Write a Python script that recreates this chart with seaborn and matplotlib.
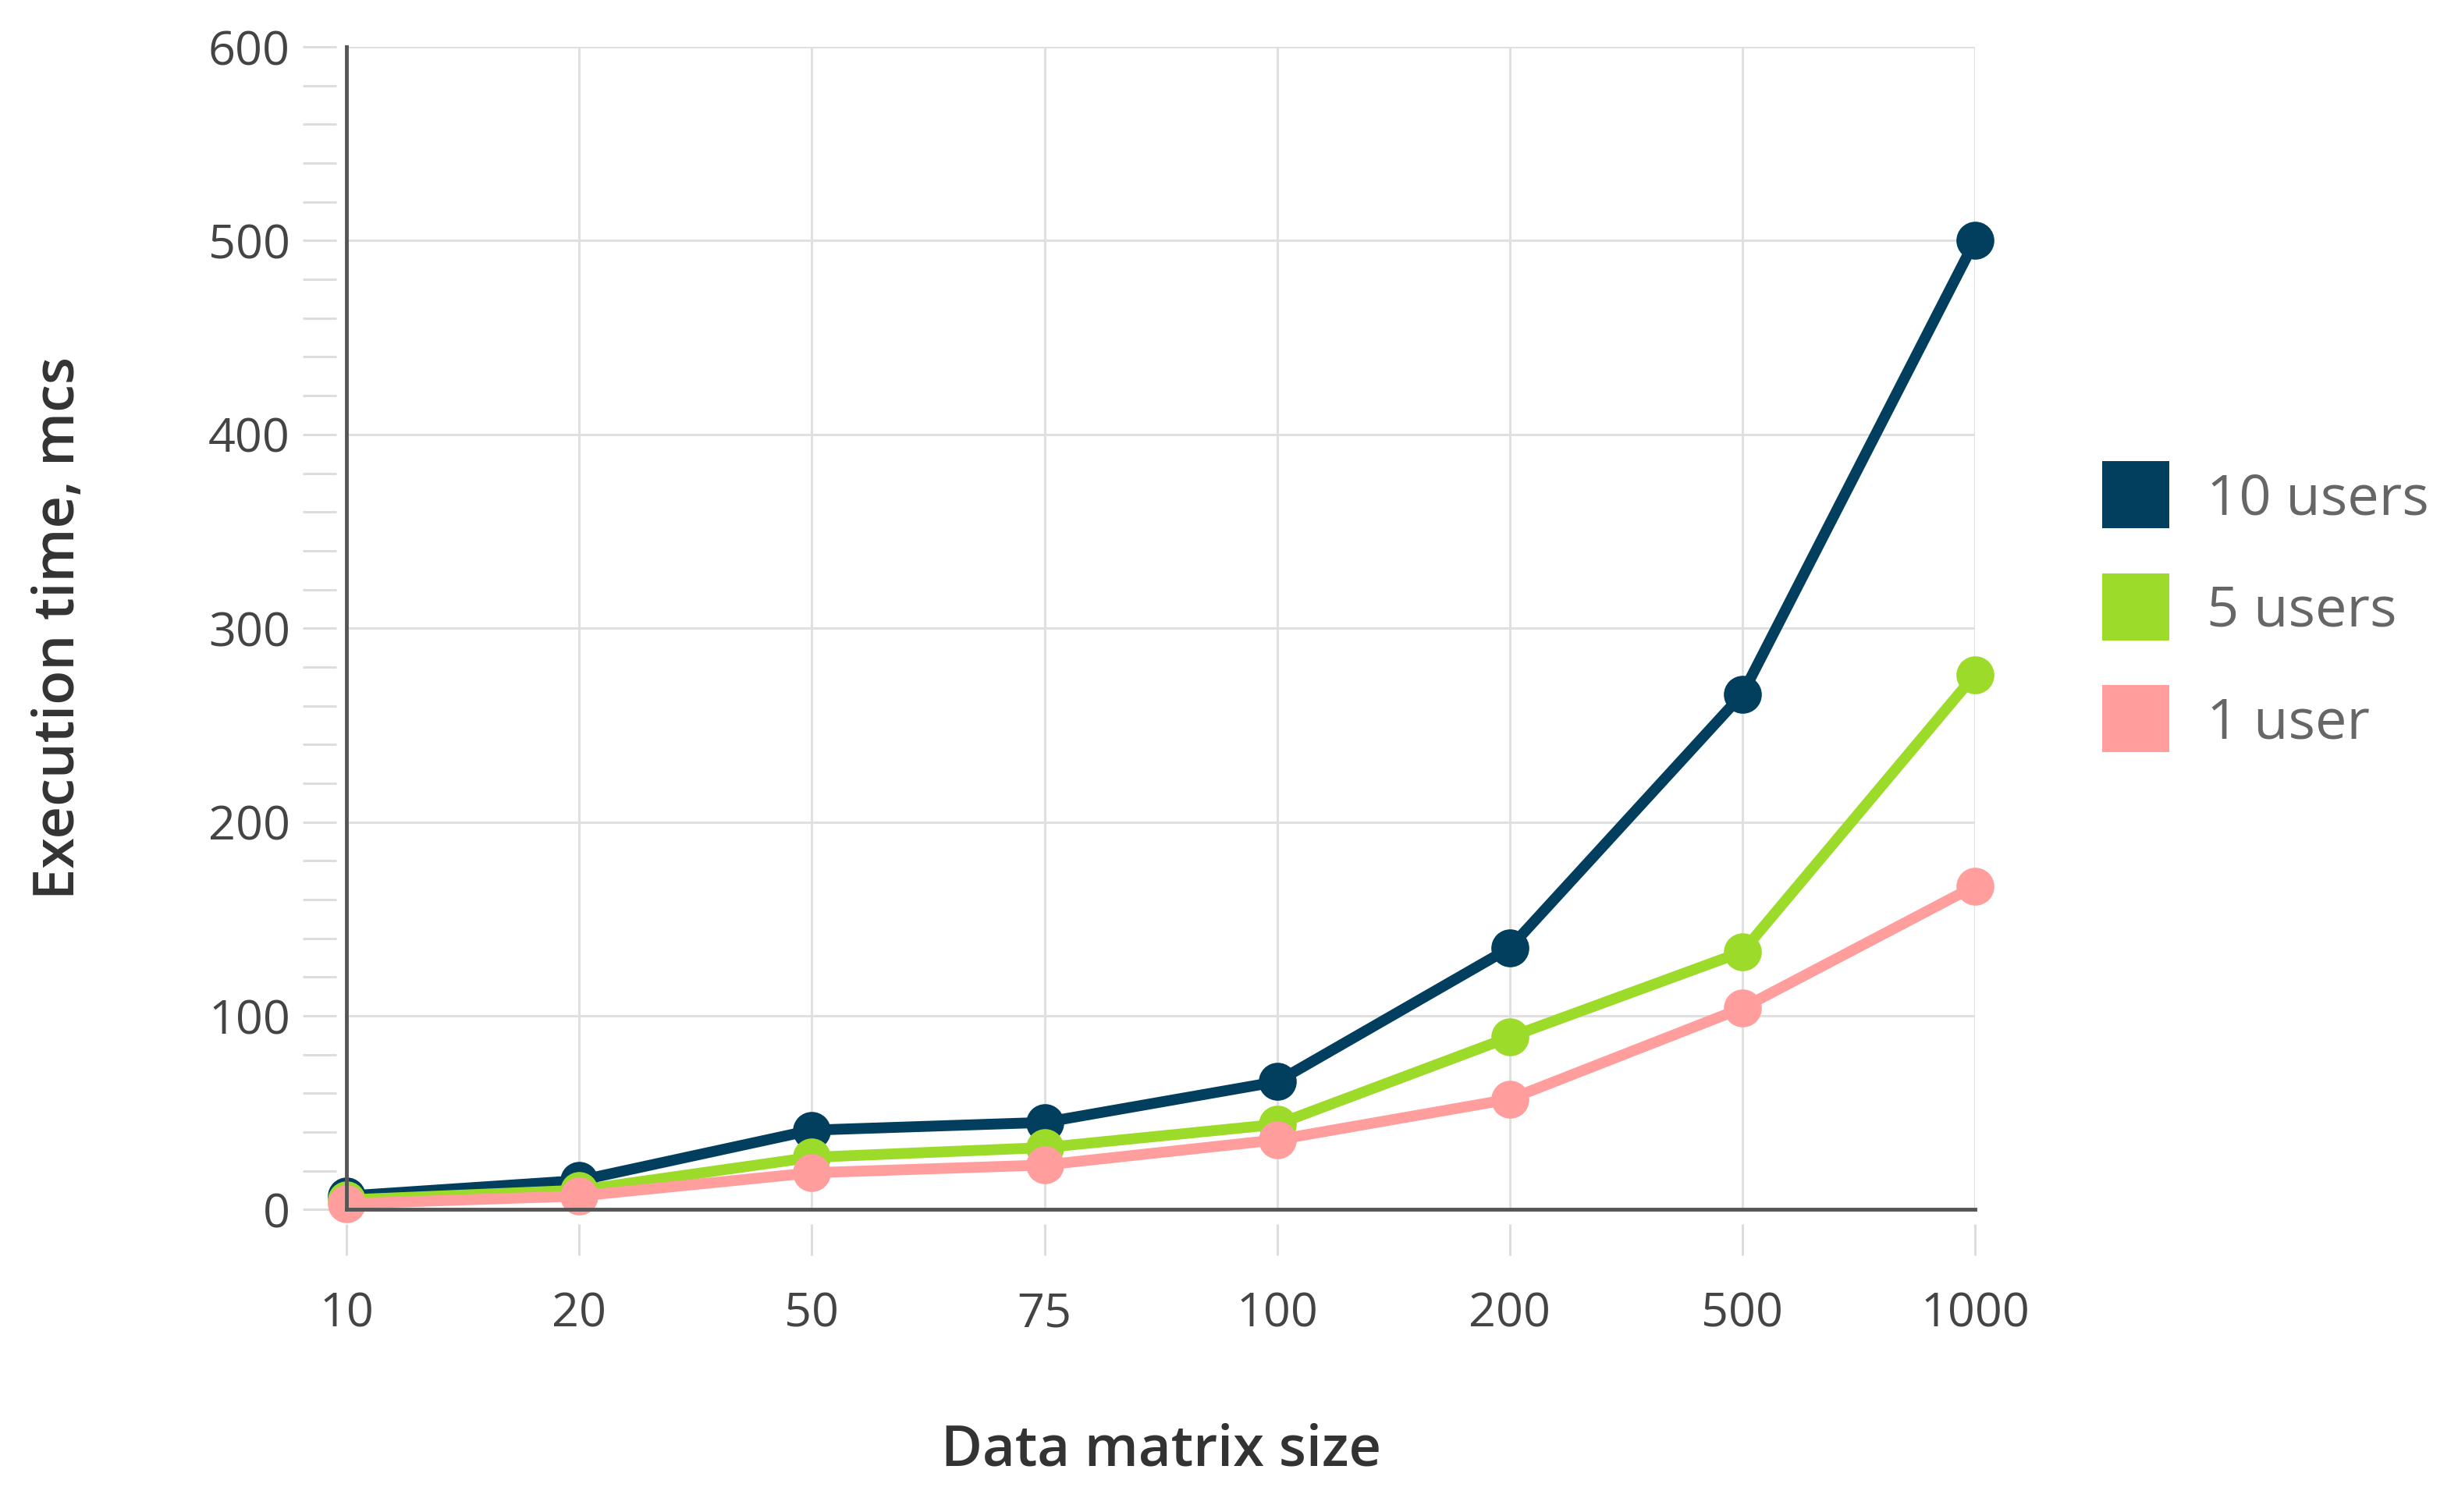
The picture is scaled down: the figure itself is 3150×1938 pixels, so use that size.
import pandas as pd
import matplotlib.pyplot as plt
import seaborn as sns
from matplotlib.lines import Line2D
from matplotlib.ticker import MultipleLocator

# data
sizes = ["10", "20", "50", "75", "100", "200", "500", "1000"]
users_10 = [7, 15, 41, 45, 66, 135, 266, 500]
users_5 = [5, 10, 27, 32, 44, 89, 133, 276]
users_1 = [3, 7, 19, 23, 36, 57, 104, 167]
series_names = ["10 users", "5 users", "1 user"]
colors = ["#023f5e", "#9ddb2a", "#ff9e9c"]

df = pd.concat([
    pd.DataFrame({"size": sizes, "time": vals, "series": name})
    for name, vals in zip(series_names, [users_10, users_5, users_1])
])

sns.set_theme(style="whitegrid")
plt.rcParams['font.family'] = ['Open Sans', 'DejaVu Sans']

fig = plt.figure(figsize=(31.5, 19.38), dpi=100)
ax = fig.add_axes([0.141, 0.2, 0.6625, 0.769])

sns.pointplot(data=df, x="size", y="time", hue="series", order=sizes,
              hue_order=series_names, palette=colors, markers="o",
              markeredgewidth=0, legend=False, clip_on=False, ax=ax)
# thicker lines / bigger dots like the original
for ln in ax.lines:
    ln.set_linewidth(10)
    ln.set_markersize(35)
    ln.set_clip_on(False)

ax.set_xlim(0, len(sizes) - 1)
ax.set_ylim(0, 600)
ax.set_yticks(range(0, 601, 100))
ax.grid(True, color="#e0e0e0", linewidth=2.2)
ax.set_axisbelow(True)
ax.set_facecolor("white")

for s in ["top", "right"]:
    ax.spines[s].set_visible(False)
for s in ["left", "bottom"]:
    ax.spines[s].set_color("#555555")
    ax.spines[s].set_linewidth(3.5)

ax.tick_params(axis="x", length=0, pad=75, labelsize=44, labelcolor="#444444")
ax.tick_params(axis="y", length=0, pad=52, labelsize=44, labelcolor="#444444")

# detached tick marks below / left of the axes
secx = ax.secondary_xaxis(-0.0125)
secx.set_xticks(range(len(sizes)))
secx.tick_params(length=29, width=2.2, color="#dddddd", labelbottom=False)
secx.spines["bottom"].set_visible(False)

secy = ax.secondary_yaxis(-0.0064)
secy.set_yticks(range(0, 601, 100))
secy.yaxis.set_minor_locator(MultipleLocator(20))
secy.tick_params(which="both", length=31, width=2.2, color="#dddddd", labelleft=False)
secy.spines["left"].set_visible(False)

ax.set_xlabel("Data matrix size", fontsize=52, fontweight="semibold", color="#333333")
ax.set_ylabel("Execution time, mcs", fontsize=52, fontweight="semibold", color="#333333")
ax.xaxis.set_label_coords(0.5, -0.183)
ax.yaxis.set_label_coords(-0.159, 0.5)

handles = [Line2D([], [], linestyle="none", marker="s", markersize=62,
                  markerfacecolor=c, markeredgewidth=0) for c in colors]
fig.legend(handles, series_names, loc="upper left",
           bbox_to_anchor=(0.855, 0.688), frameon=False, fontsize=52,
           labelcolor="#666666", handlelength=1.2, handletextpad=0.66,
           labelspacing=1.0, borderpad=0, borderaxespad=0)

fig.savefig("out.png", dpi=100)
